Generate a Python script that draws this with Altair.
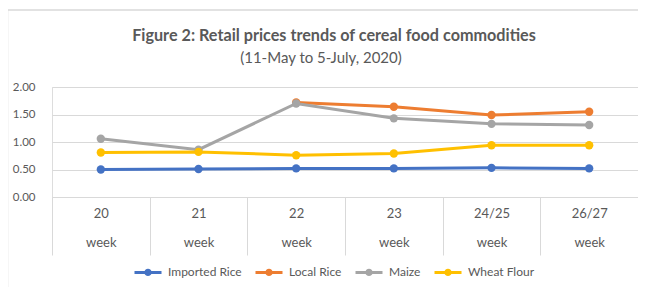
import altair as alt
import pandas as pd

weeks = ["20", "21", "22", "23", "24/25", "26/27"]
imported_rice = [0.50, 0.51, 0.52, 0.52, 0.53, 0.52]
local_rice = [None, None, 1.72, 1.64, 1.49, 1.55]
maize = [1.06, 0.86, 1.70, 1.43, 1.33, 1.31]
wheat_flour = [0.81, 0.82, 0.76, 0.79, 0.94, 0.94]

series = ["Imported Rice", "Local Rice", "Maize", "Wheat Flour"]
colors = ["#4472C4", "#ED7D31", "#A5A5A5", "#FFC000"]

title_text = "Figure 2: Retail prices trends of cereal food commodities"
subtitle_text = "(11-May to 5-July, 2020)"

rows = []
for name, vals in zip(series, [imported_rice, local_rice, maize, wheat_flour]):
    for w, v in zip(weeks, vals):
        if v is not None:
            rows.append({"week": w, "price": v, "series": name})
df = pd.DataFrame(rows)

FONT = "Lato"
GRAY = "#595959"
LINE = "#D9D9D9"

x_enc = alt.X(
    "week:O",
    sort=weeks,
    bandPosition=0.5,
    scale=alt.Scale(type="band", paddingInner=0, paddingOuter=0),
    axis=alt.Axis(
        title=None,
        labelAngle=0,
        labelExpr="datum.value ? [datum.value, 'week'] : ''",
        labelLineHeight=29,
        labelFontSize=13,
        labelColor=GRAY,
        labelFont=FONT,
        labelBaseline="top",
        labelPadding=-48,
        tickBand="extent",
        tickSize=58,
        tickColor=LINE,
        tickWidth=1,
        domainColor=LINE,
        domainWidth=1,
        grid=False,
    ),
)
y_enc = alt.Y(
    "price:Q",
    scale=alt.Scale(domain=[0, 2]),
    axis=alt.Axis(
        title=None,
        values=[0, 0.5, 1, 1.5, 2],
        format=".2f",
        labelFontSize=11.5,
        labelColor=GRAY,
        labelFont=FONT,
        labelPadding=17,
        ticks=False,
        domain=False,
        gridColor=LINE,
        gridWidth=1,
    ),
)
color_scale = alt.Scale(domain=series, range=colors)

symbol_path = (
    "M-1,0 L1,0 "
    "M-0.16,0 A0.16,0.16 0 1,1 0.16,0 A0.16,0.16 0 1,1 -0.16,0"
)

legend = alt.Legend(
    title=None,
    orient="none",
    direction="horizontal",
    legendX=81,
    legendY=170,
    symbolType=symbol_path,
    symbolSize=729,
    symbolStrokeWidth=3,
    symbolOpacity=1,
    labelFont=FONT,
    labelFontSize=12,
    labelColor=GRAY,
    labelOffset=5,
    columnPadding=7,
    padding=0,
)

lines = alt.Chart(df).mark_line(strokeWidth=3).encode(
    x=x_enc,
    y=y_enc,
    color=alt.Color("series:N", scale=color_scale, legend=legend),
    detail="series:N",
)
points = alt.Chart(df).mark_point(filled=True, size=70, opacity=1).encode(
    x=x_enc,
    y=y_enc,
    color=alt.Color("series:N", scale=color_scale),
)

one = pd.DataFrame({"a": [0]})
border = alt.Chart(one).mark_rect(
    fill=None, stroke=LINE, strokeWidth=1.5
).encode(
    x=alt.value(-44.5), x2=alt.value(2000), y=alt.value(-77), y2=alt.value(2000)
)
title_mark = alt.Chart(one).mark_text(
    text=title_text, font=FONT, fontSize=16.2, fontWeight="bold", color=GRAY,
    align="center", baseline="middle",
).encode(x=alt.value(282), y=alt.value(-51))
subtitle_mark = alt.Chart(one).mark_text(
    text=subtitle_text, font=FONT, fontSize=15, color=GRAY,
    align="center", baseline="middle",
).encode(x=alt.value(269), y=alt.value(-29))

chart = alt.layer(border, title_mark, subtitle_mark, lines, points).properties(
    width=586,
    height=110,
    padding={"left": 44, "top": 79, "right": 0, "bottom": 90},
    autosize=alt.AutoSizeParams(type="none"),
).configure_view(stroke=None).configure(background="white")

chart.save("out.html", embed_options={"renderer": "svg", "actions": False})
